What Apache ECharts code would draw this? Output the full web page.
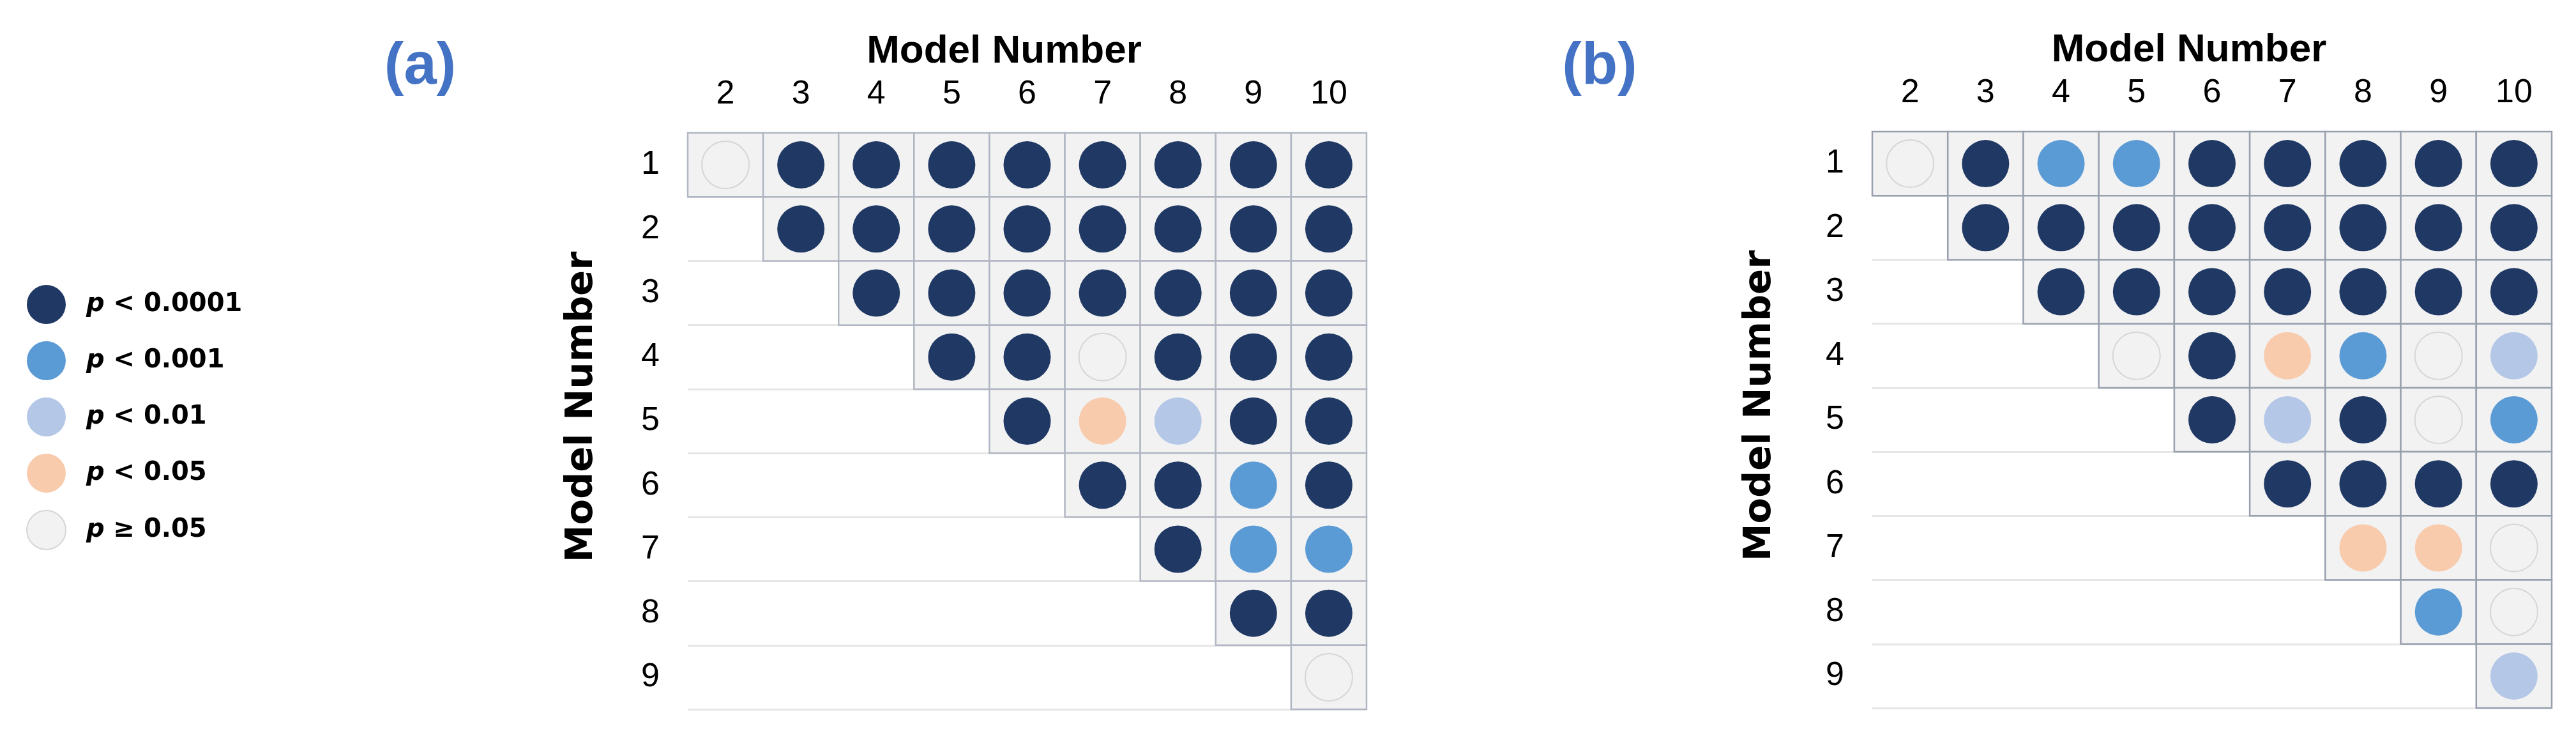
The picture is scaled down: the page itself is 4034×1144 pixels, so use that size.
<!DOCTYPE html>
<html>
<head>
<meta charset="utf-8">
<script src="https://cdn.jsdelivr.net/npm/echarts@6/dist/echarts.min.js"></script>
<style>
  html, body { margin: 0; padding: 0; background: #fff; }
  #chart { width: 4034px; height: 1144px; }
</style>
</head>
<body>
<div id="chart"></div>
<script>
// axis categories
const colLabels = ['2', '3', '4', '5', '6', '7', '8', '9', '10'];
const rowLabels = ['1', '2', '3', '4', '5', '6', '7', '8', '9'];

// significance levels (index used in the matrices below)
const levelNames = ['p < 0.0001', 'p < 0.001', 'p < 0.01', 'p < 0.05', 'p ≥ 0.05'];
const levelColors = ['#1f3864', '#5b9bd5', '#b4c7e7', '#f8cbad', '#f2f2f2'];

// upper-triangle results, row i holds models i+1 .. 10
const panelA = [
	[4, 0, 0, 0, 0, 0, 0, 0, 0],
	[0, 0, 0, 0, 0, 0, 0, 0],
	[0, 0, 0, 0, 0, 0, 0],
	[0, 0, 4, 0, 0, 0],
	[0, 3, 2, 0, 0],
	[0, 0, 1, 0],
	[0, 1, 1],
	[0, 0],
	[4]
];
const panelB = [
	[4, 0, 1, 1, 0, 0, 0, 0, 0],
	[0, 0, 0, 0, 0, 0, 0, 0],
	[0, 0, 0, 0, 0, 0, 0],
	[4, 0, 3, 1, 4, 2],
	[0, 2, 0, 4, 1],
	[0, 0, 0, 0],
	[3, 3, 4],
	[1, 4],
	[2]
];

const FONT = 'Liberation Sans, Arial, sans-serif';
const WIDE = 'DejaVu Sans, sans-serif';
const ELLIPSE = 'path://M50,0 A50,50 0 1,1 50,100 A50,50 0 1,1 50,0 Z';

const panels = [
	{ data: panelA, grid: { left: 1077, top: 208, width: 1063, height: 902 }, border: '#b1b7c2', yGap: 136, label: '(a)', labelX: 653 },
	{ data: panelB, grid: { left: 2932, top: 206, width: 1064, height: 902 }, border: '#98a0ae', yGap: 146, label: '(b)', labelX: 2500 }
];

const renderCell = (border) => (params, api) => {
	const c = api.coord([api.value(0), api.value(1)]);
	const s = api.size([1, 1]);
	return {
		type: 'rect',
		shape: { x: c[0] - s[0] / 2, y: c[1] - s[1] / 2, width: s[0], height: s[1] },
		style: { fill: '#f2f2f2', stroke: border, lineWidth: 2.5 }
	};
};

const grids = [], xAxes = [], yAxes = [], series = [], titles = [];

panels.forEach((p, k) => {
	grids.push(p.grid);
	xAxes.push({
		type: 'category', gridIndex: k, data: colLabels, position: 'top',
		name: 'Model Number', nameLocation: 'middle', nameGap: 96,
		nameTextStyle: { fontFamily: FONT, fontWeight: 'bold', fontSize: 62, color: '#000', padding: [0, 72, 0, 0] },
		axisLine: { show: false }, axisTick: { show: false }, splitLine: { show: false },
		axisLabel: { fontFamily: FONT, fontSize: 52, color: '#000', margin: 34 }
	});
	yAxes.push({
		type: 'category', gridIndex: k, data: rowLabels, inverse: true,
		name: 'Model Number', nameLocation: 'middle', nameGap: p.yGap, nameRotate: 90,
		nameTextStyle: { fontFamily: WIDE, fontWeight: 'bold', fontSize: 59, color: '#000', padding: [0, 0, 0, 44] },
		axisLine: { show: false }, axisTick: { show: false },
		splitLine: { show: true, interval: 0, lineStyle: { color: '#e6e6e6', width: 3 } },
		axisLabel: { fontFamily: FONT, fontSize: 52, color: '#000', margin: 44 }
	});

	const cells = [];
	const byLevel = levelNames.map(() => []);
	p.data.forEach((row, i) => {
		row.forEach((lvl, n) => {
			const j = i + n; // column index into colLabels
			cells.push([j, i]);
			byLevel[lvl].push([j, i]);
		});
	});

	series.push({
		type: 'custom', xAxisIndex: k, yAxisIndex: k, z: 1, silent: true,
		renderItem: renderCell(p.border), data: cells
	});
	levelNames.forEach((name, l) => {
		series.push({
			type: 'scatter', name, xAxisIndex: k, yAxisIndex: k, z: 3,
			symbol: 'circle', symbolSize: 74,
			itemStyle: {
				color: levelColors[l], opacity: 1,
				borderColor: l === 4 ? '#d6d6d6' : levelColors[l], borderWidth: l === 4 ? 2 : 0
			},
			data: byLevel[l]
		});
	});

	titles.push({
		text: p.label, left: p.labelX, top: 101, textAlign: 'center', textVerticalAlign: 'middle',
		textStyle: { fontFamily: FONT, fontWeight: 'bold', fontSize: 92, color: '#4472c4' }
	});
});

const chart = echarts.init(document.getElementById('chart'), null, { renderer: 'canvas' });
chart.setOption({
	backgroundColor: '#fff',
	animation: false,
	title: titles,
	grid: grids,
	xAxis: xAxes,
	yAxis: yAxes,
	legend: {
		orient: 'vertical', left: 36, top: 441, itemWidth: 73, itemHeight: 61, itemGap: 27,
		selectedMode: false, icon: ELLIPSE, data: levelNames,
		formatter: (name) => '{p|p}{t|' + name.slice(1) + '}',
		textStyle: {
			rich: {
				p: { fontFamily: WIDE, fontWeight: 'bold', fontStyle: 'italic', fontSize: 40, color: '#000', padding: [0, 0, 0, 21] },
				t: { fontFamily: WIDE, fontWeight: 'bold', fontSize: 40, color: '#000' }
			}
		}
	},
	series
});
</script>
</body>
</html>
